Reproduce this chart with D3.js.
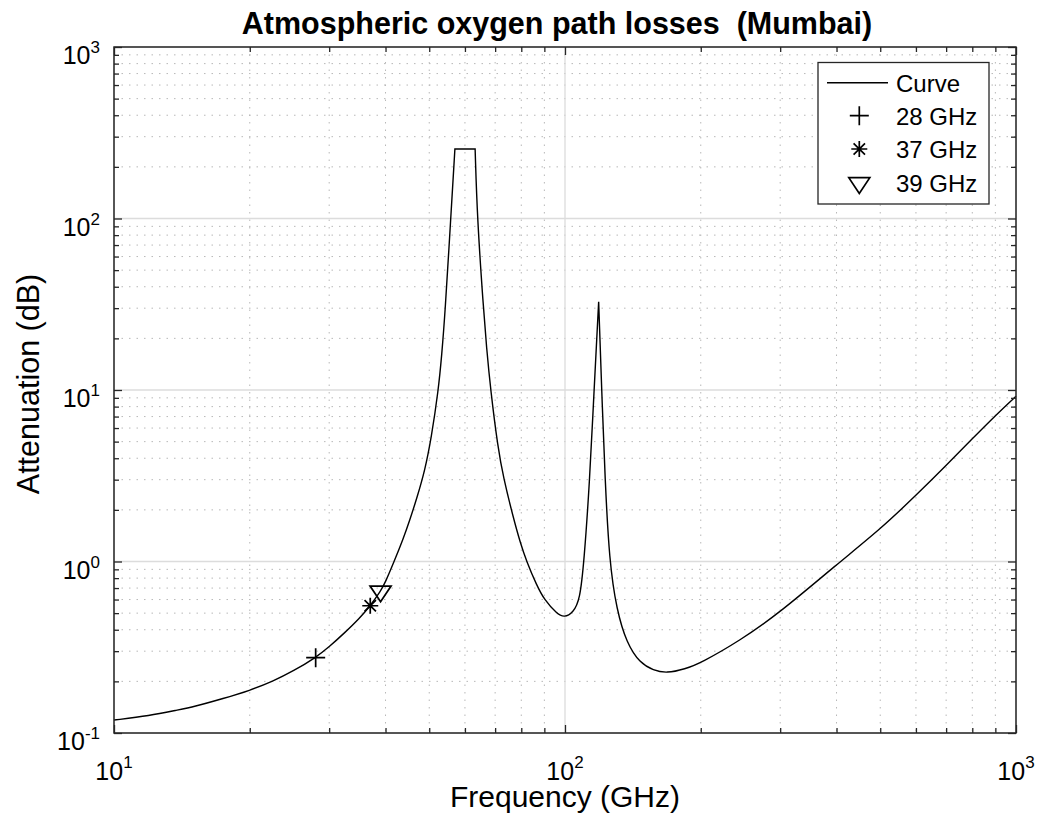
<!DOCTYPE html>
<html><head><meta charset="utf-8">
<script src="https://cdn.jsdelivr.net/npm/d3@7"></script>
<style>
body{margin:0;background:#fff}
svg{display:block}
text{font-family:"Liberation Sans",Arial,Helvetica,sans-serif;fill:#000}
</style>
</head><body>
<svg id="c" width="1041" height="832"></svg>
<script>
// ---- data ----
const freqGHz = [10, 12, 13.8, 15, 17.5, 20, 22.5, 25, 28, 30, 32.5, 35, 37, 39, 40, 41.8, 43.8, 45.2, 47, 48.9, 50.5, 52.4, 53.3, 54.2, 55.8, 57, 63.2, 63.9, 65.9, 67, 68.4, 71, 73, 76.8, 79.5, 82.2, 86.5, 90, 95.9, 99.6, 104.3, 107.9, 110.2, 113.3, 116, 118.75, 120.6, 122.7, 125.4, 130.2, 137, 146.7, 157, 168, 184.5, 200, 244, 300, 400, 500, 600, 700, 800, 900, 1000];
const attenDB = [0.119, 0.126, 0.136, 0.142, 0.159, 0.177, 0.2, 0.23, 0.275, 0.318, 0.385, 0.465, 0.552, 0.67, 0.76, 1.0, 1.36, 1.72, 2.37, 3.4, 5.2, 10, 16, 28, 100, 254, 254, 100, 30.6, 17.6, 10, 4.6, 3.1, 1.8, 1.3, 1.0, 0.729, 0.597, 0.497, 0.47, 0.505, 0.597, 1.0, 2.8, 10, 32.7, 10, 3.0, 1.0, 0.521, 0.334, 0.255, 0.232, 0.223, 0.236, 0.256, 0.345, 0.505, 0.96, 1.54, 2.43, 3.63, 5.2, 7.1, 9.2];
// frequencies where the curve has a sharp corner (flat clipped top, narrow line peak)
const cornerFreqGHz = [57, 63.2, 118.75];
const markerFreqGHz = [28, 37, 39];
const markerAttenDB = [0.275, 0.552, 0.67];
const markerNames = ["28 GHz", "37 GHz", "39 GHz"];
const markerShapes = ["plus", "asterisk", "triangleDown"];
const xMajorTicks = [10, 100, 1000];
const xTickExponents = ["1", "2", "3"];
const yMajorTicks = [0.1, 1, 10, 100, 1000];
const yTickExponents = ["-1", "0", "1", "2", "3"];
const titleText = "Atmospheric oxygen path losses  (Mumbai)";
const xLabelText = "Frequency (GHz)";
const yLabelText = "Attenuation (dB)";
const curveName = "Curve";

// ---- layout ----
const L = 114, R = 1016, T = 47, B = 733;
const svg = d3.select("#c");
const x = d3.scaleLog().domain([10, 1000]).range([L, R]);
const y = d3.scaleLog().domain([0.1, 1000]).range([B, T]);

const xAll = x.ticks();
const yAll = y.ticks();
const xMinor = xAll.filter(v => !xMajorTicks.some(m => Math.abs(m - v) < 1e-9));
const yMinor = yAll.filter(v => !yMajorTicks.some(m => Math.abs(m - v) < 1e-9));

// grid
const grid = svg.append("g");
grid.selectAll(".vmin").data(xMinor).join("line")
  .attr("x1", d => x(d)).attr("x2", d => x(d)).attr("y1", T).attr("y2", B)
  .attr("stroke", "#b8b8b8").attr("stroke-width", 1).attr("stroke-dasharray", "1.5,6");
grid.selectAll(".hmin").data(yMinor).join("line")
  .attr("y1", d => y(d)).attr("y2", d => y(d)).attr("x1", L).attr("x2", R)
  .attr("stroke", "#b8b8b8").attr("stroke-width", 1).attr("stroke-dasharray", "1.5,6");
grid.selectAll(".vmaj").data(xMajorTicks).join("line")
  .attr("x1", d => x(d)).attr("x2", d => x(d)).attr("y1", T).attr("y2", B)
  .attr("stroke", "#dcdcdc").attr("stroke-width", 1.3);
grid.selectAll(".hmaj").data(yMajorTicks).join("line")
  .attr("y1", d => y(d)).attr("y2", d => y(d)).attr("x1", L).attr("x2", R)
  .attr("stroke", "#dcdcdc").attr("stroke-width", 1.3);

// curve: smooth pieces joined at sharp corners
const pts = freqGHz.map((f, i) => [f, attenDB[i]]);
const pieces = [];
let start = 0;
pts.forEach((p, i) => {
  if (i > 0 && cornerFreqGHz.includes(p[0])) { pieces.push(pts.slice(start, i + 1)); start = i; }
});
pieces.push(pts.slice(start));
const line = d3.line().x(d => x(d[0])).y(d => y(d[1])).curve(d3.curveBasis);
const pathD = pieces.map((pc, k) => {
  const d = line(pc);
  return k === 0 ? d : "L" + d.slice(1);
}).join("");
svg.append("path").attr("d", pathD).attr("fill", "none").attr("stroke", "#000")
  .attr("stroke-width", 1.4).attr("stroke-linejoin", "miter");

// markers
function markerPath(shape) {
  if (shape === "plus") return "M-9.5,0H9.5M0,-9.5V9.5";
  if (shape === "asterisk") return "M-8,0H8M0,-8V8M-5.7,-5.7L5.7,5.7M-5.7,5.7L5.7,-5.7";
  return "M-10.5,-5.3H10.5L0,10.4Z";
}
svg.selectAll(".mk").data(markerFreqGHz).join("path")
  .attr("transform", (d, i) => `translate(${x(d)},${y(markerAttenDB[i])})`)
  .attr("d", (d, i) => markerPath(markerShapes[i]))
  .attr("fill", "none").attr("stroke", "#000").attr("stroke-width", 1.7);

// axes ticks (inward on all four sides)
function ticks(axisFn, scale, vals, size, tr) {
  const g = svg.append("g").attr("transform", tr)
    .call(axisFn(scale).tickValues(vals).tickSizeInner(-size).tickSizeOuter(0).tickFormat(""));
  g.select(".domain").remove();
  g.selectAll("line").attr("stroke", "#262626").attr("stroke-width", 1.3);
}
ticks(d3.axisBottom, x, xMinor, 5, `translate(0,${B})`);
ticks(d3.axisBottom, x, xMajorTicks, 8, `translate(0,${B})`);
ticks(d3.axisTop, x, xMinor, 5, `translate(0,${T})`);
ticks(d3.axisTop, x, xMajorTicks, 8, `translate(0,${T})`);
ticks(d3.axisLeft, y, yMinor, 5, `translate(${L},0)`);
ticks(d3.axisLeft, y, yMajorTicks, 8, `translate(${L},0)`);
ticks(d3.axisRight, y, yMinor, 5, `translate(${R},0)`);
ticks(d3.axisRight, y, yMajorTicks, 8, `translate(${R},0)`);

svg.append("rect").attr("x", L).attr("y", T).attr("width", R - L).attr("height", B - T)
  .attr("fill", "none").attr("stroke", "#262626").attr("stroke-width", 1.5);

// tick labels
const xl = svg.append("g");
xMajorTicks.forEach((v, i) => {
  const t = xl.append("text").attr("x", x(v)).attr("y", 780).attr("text-anchor", "middle").attr("font-size", 25);
  t.append("tspan").text("10");
  t.append("tspan").attr("dy", -12).attr("font-size", 17).text(xTickExponents[i]);
});
yMajorTicks.forEach((v, i) => {
  const t = xl.append("text").attr("x", 100).attr("y", y(v) + 17).attr("text-anchor", "end").attr("font-size", 25);
  t.append("tspan").text("10");
  t.append("tspan").attr("dy", -11).attr("font-size", 17).text(yTickExponents[i]);
});

// titles
svg.append("text").attr("x", 557).attr("y", 34).attr("text-anchor", "middle")
  .attr("font-size", 30.5).attr("font-weight", "bold").style("white-space", "pre").text(titleText);
svg.append("text").attr("x", 565).attr("y", 807).attr("text-anchor", "middle")
  .attr("font-size", 30).text(xLabelText);
svg.append("text").attr("transform", `translate(39,384) rotate(-90)`).attr("text-anchor", "middle")
  .attr("font-size", 30.5).text(yLabelText);

// legend
const lg = svg.append("g");
lg.append("rect").attr("x", 818).attr("y", 62.5).attr("width", 171).attr("height", 141.5)
  .attr("fill", "#fff").attr("stroke", "#262626").attr("stroke-width", 1.3);
const rowY = [82.7, 115.7, 149, 183];
lg.append("line").attr("x1", 827).attr("x2", 888).attr("y1", rowY[0]).attr("y2", rowY[0])
  .attr("stroke", "#000").attr("stroke-width", 1.4);
lg.append("text").attr("x", 896).attr("y", rowY[0] + 9).attr("font-size", 24).text(curveName);
markerNames.forEach((n, i) => {
  lg.append("path").attr("transform", `translate(859.3,${rowY[i + 1]})`)
    .attr("d", markerPath(markerShapes[i])).attr("fill", "none").attr("stroke", "#000").attr("stroke-width", 1.7);
  lg.append("text").attr("x", 896).attr("y", rowY[i + 1] + 9).attr("font-size", 24).text(n);
});
</script>
</body></html>
